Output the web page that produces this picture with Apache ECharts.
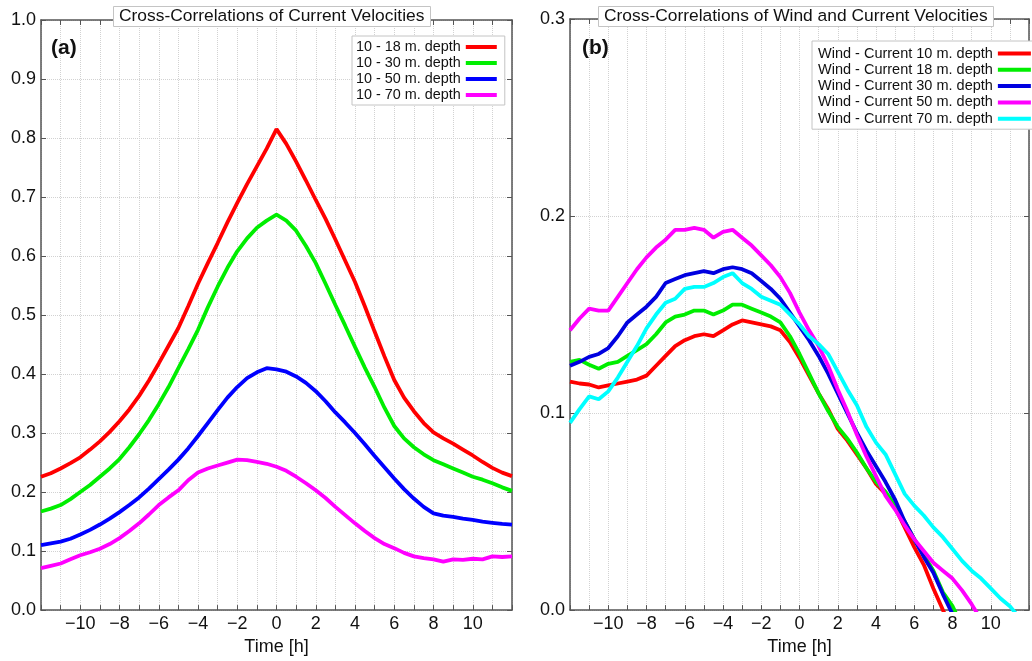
<!DOCTYPE html>
<html>
<head>
<meta charset="utf-8">
<script src="https://cdn.jsdelivr.net/npm/echarts@6/dist/echarts.min.js"></script>
<style>
html,body{margin:0;padding:0;background:#fff;}
#chart{width:1032px;height:661px;}
</style>
</head>
<body>
<div id="chart"></div>
<script>
// ---- data ----
const timeH = [-12,-11.5,-11,-10.5,-10,-9.5,-9,-8.5,-8,-7.5,-7,-6.5,-6,-5.5,-5,-4.5,-4,-3.5,-3,-2.5,-2,-1.5,-1,-0.5,0,0.5,1,1.5,2,2.5,3,3.5,4,4.5,5,5.5,6,6.5,7,7.5,8,8.5,9,9.5,10,10.5,11,11.5,12];
const xTickLabels = [-10,-8,-6,-4,-2,0,2,4,6,8,10];

const namesA = ['10 - 18 m. depth','10 - 30 m. depth','10 - 50 m. depth','10 - 70 m. depth'];
const a18 = [0.226,0.232,0.240,0.249,0.259,0.272,0.286,0.302,0.320,0.340,0.363,0.389,0.418,0.448,0.478,0.515,0.553,0.588,0.622,0.657,0.690,0.722,0.752,0.782,0.815,0.790,0.760,0.728,0.695,0.663,0.628,0.592,0.556,0.515,0.472,0.430,0.390,0.360,0.337,0.317,0.301,0.291,0.282,0.272,0.262,0.251,0.241,0.233,0.227];
const a30 = [0.167,0.172,0.178,0.188,0.200,0.212,0.226,0.240,0.256,0.276,0.298,0.322,0.349,0.378,0.410,0.442,0.475,0.513,0.548,0.580,0.608,0.630,0.648,0.660,0.670,0.660,0.643,0.617,0.588,0.553,0.517,0.482,0.446,0.411,0.378,0.343,0.312,0.291,0.276,0.264,0.254,0.247,0.240,0.233,0.226,0.221,0.215,0.208,0.202];
const a50 = [0.110,0.113,0.116,0.121,0.128,0.136,0.145,0.155,0.166,0.178,0.191,0.206,0.222,0.238,0.255,0.274,0.295,0.317,0.339,0.360,0.378,0.393,0.403,0.410,0.408,0.404,0.396,0.385,0.371,0.354,0.335,0.318,0.300,0.281,0.261,0.242,0.223,0.205,0.189,0.175,0.164,0.160,0.158,0.155,0.153,0.150,0.148,0.146,0.145];
const a70 = [0.071,0.075,0.079,0.086,0.093,0.098,0.104,0.112,0.122,0.134,0.147,0.162,0.178,0.191,0.203,0.220,0.233,0.240,0.245,0.250,0.255,0.254,0.251,0.248,0.243,0.236,0.226,0.215,0.203,0.190,0.175,0.161,0.147,0.134,0.122,0.112,0.105,0.097,0.091,0.088,0.086,0.082,0.086,0.085,0.087,0.086,0.091,0.090,0.091];

const namesB = ['Wind - Current 10 m. depth','Wind - Current 18 m. depth','Wind - Current 30 m. depth','Wind - Current 50 m. depth','Wind - Current 70 m. depth'];
const b10 = [0.116,0.115,0.1145,0.113,0.114,0.115,0.116,0.117,0.119,0.124,0.129,0.134,0.137,0.139,0.140,0.139,0.142,0.145,0.147,0.146,0.145,0.144,0.142,0.136,0.128,0.119,0.110,0.102,0.092,0.086,0.079,0.072,0.064,0.059,0.052,0.042,0.032,0.023,0.011,0.000,-0.010];
const b18 = [0.126,0.127,0.1245,0.1225,0.125,0.126,0.129,0.132,0.135,0.140,0.146,0.149,0.150,0.152,0.152,0.150,0.152,0.155,0.155,0.153,0.151,0.149,0.146,0.139,0.130,0.120,0.110,0.101,0.093,0.087,0.080,0.072,0.065,0.060,0.053,0.045,0.036,0.028,0.020,0.009,0.002,-0.008];
const b30 = [0.124,0.126,0.1285,0.130,0.133,0.139,0.146,0.150,0.154,0.159,0.166,0.168,0.170,0.171,0.172,0.171,0.173,0.174,0.173,0.171,0.167,0.163,0.158,0.151,0.144,0.137,0.129,0.120,0.110,0.100,0.090,0.081,0.073,0.065,0.056,0.045,0.036,0.027,0.019,0.008,-0.002];
const b50 = [0.142,0.148,0.153,0.152,0.152,0.159,0.166,0.173,0.179,0.184,0.188,0.193,0.193,0.194,0.193,0.189,0.192,0.193,0.189,0.185,0.180,0.175,0.169,0.161,0.151,0.142,0.134,0.124,0.112,0.101,0.089,0.078,0.068,0.058,0.051,0.043,0.036,0.030,0.024,0.020,0.016,0.010,0.003,-0.005];
const b70 = [0.095,0.102,0.1085,0.107,0.111,0.118,0.126,0.134,0.143,0.150,0.156,0.158,0.163,0.164,0.164,0.166,0.169,0.171,0.166,0.163,0.159,0.157,0.155,0.150,0.145,0.139,0.135,0.130,0.121,0.112,0.104,0.093,0.085,0.079,0.069,0.059,0.053,0.048,0.042,0.037,0.031,0.025,0.020,0.016,0.011,0.006,0.002,-0.004];

const colorsA = ['#ff0000','#00ee00','#0000ff','#ff00ff'];
const colorsB = ['#ff0000','#00ee00','#0000e0','#ff00ff','#00ffff'];

// ---- chart ----
const FONT = "'Liberation Sans', Arial, sans-serif";
const pair = vals => vals.map((v, i) => [timeH[i], v]);
const axisCol = '#555';
const gridLine = { show: true, lineStyle: { color: '#d2d2d2', type: 'dotted', width: 1 } };

function xBottom(gi) {
  return {
    type: 'value', gridIndex: gi, min: -12, max: 12, interval: 1, position: 'bottom',
    name: 'Time [h]', nameLocation: 'middle', nameGap: 21,
    nameTextStyle: { fontFamily: FONT, fontSize: 18, color: '#111' },
    axisLine: { show: true, onZero: false, lineStyle: { color: axisCol, width: 1.5 } },
    axisTick: { show: true, inside: true, length: 5, lineStyle: { color: axisCol } },
    axisLabel: {
      margin: 5, fontFamily: FONT, fontSize: 18, color: '#111',
      formatter: v => xTickLabels.includes(v) ? String(v).replace('-', '\u2212') : ''
    },
    splitLine: gridLine
  };
}
function xTop(gi) {
  return {
    type: 'value', gridIndex: gi, min: -12, max: 12, interval: 1, position: 'top',
    axisLine: { show: true, onZero: false, lineStyle: { color: axisCol, width: 1.5 } },
    axisTick: { show: true, inside: true, length: 5, lineStyle: { color: axisCol } },
    axisLabel: { show: false }, splitLine: { show: false }
  };
}
function yLeft(gi, max) {
  return {
    type: 'value', gridIndex: gi, min: 0, max: max, interval: 0.1, position: 'left',
    axisLine: { show: true, onZero: false, lineStyle: { color: axisCol, width: 1.5 } },
    axisTick: { show: true, inside: true, length: 5, lineStyle: { color: axisCol } },
    axisLabel: { margin: 5, fontFamily: FONT, fontSize: 18, color: '#111', formatter: v => v.toFixed(1) },
    splitLine: gridLine
  };
}
function yRight(gi, max) {
  return {
    type: 'value', gridIndex: gi, min: 0, max: max, interval: 0.1, position: 'right',
    axisLine: { show: true, onZero: false, lineStyle: { color: axisCol, width: 1.5 } },
    axisTick: { show: true, inside: true, length: 5, lineStyle: { color: axisCol } },
    axisLabel: { show: false }, splitLine: { show: false }
  };
}

const seriesA = [a18, a30, a50, a70].map((d, i) => ({
  type: 'line', name: namesA[i], xAxisIndex: 0, yAxisIndex: 0, data: pair(d),
  showSymbol: false, symbol: 'none', clip: true,
  lineStyle: { color: colorsA[i], width: 3.8 }, itemStyle: { color: colorsA[i] }
}));
const seriesB = [b10, b18, b30, b50, b70].map((d, i) => ({
  type: 'line', name: namesB[i], xAxisIndex: 2, yAxisIndex: 2, data: pair(d),
  showSymbol: false, symbol: 'none', clip: true,
  lineStyle: { color: colorsB[i], width: 3.8 }, itemStyle: { color: colorsB[i] }
}));

const titleBox = { backgroundColor: '#fff', borderColor: '#c4c4c4', borderWidth: 1, padding: [2, 6, 2, 6] };

const option = {
  animation: false,
  backgroundColor: '#fff',
  grid: [
    { left: 41, right: 520, top: 20, bottom: 44.5 },
    { left: 570, right: -8, top: 19, bottom: 44 }
  ],
  xAxis: [xBottom(0), xTop(0), xBottom(1), xTop(1)],
  yAxis: [yLeft(0, 1.0), yRight(0, 1.0), yLeft(1, 0.3), yRight(1, 0.3)],
  title: [
    Object.assign({ text: 'Cross-Correlations of Current Velocities', left: 113, top: 6,
      textStyle: { fontFamily: FONT, fontSize: 17.4, fontWeight: 'normal', color: '#111' } }, titleBox),
    Object.assign({ text: 'Cross-Correlations of Wind and Current Velocities', left: 598, top: 6,
      textStyle: { fontFamily: FONT, fontSize: 17.4, fontWeight: 'normal', color: '#111' } }, titleBox),
    { text: '(a)', left: 51, top: 38, padding: 0, textStyle: { fontFamily: FONT, fontSize: 21, fontWeight: 'bold', color: '#111' } },
    { text: '(b)', left: 582, top: 38, padding: 0, textStyle: { fontFamily: FONT, fontSize: 21, fontWeight: 'bold', color: '#111' } }
  ],
  legend: [
    {
      data: namesA, orient: 'vertical', left: 352, top: 36, align: 'right',
      icon: 'rect', itemWidth: 31, itemHeight: 4, itemGap: 2,
      padding: [4, 8, 3, 4], backgroundColor: '#fff', borderColor: '#c4c4c4', borderWidth: 1,
      textStyle: { fontFamily: FONT, fontSize: 14.4, color: '#111' }
    },
    {
      data: namesB, orient: 'vertical', left: 812, top: 41, align: 'right',
      icon: 'rect', itemWidth: 33, itemHeight: 4, itemGap: 1.3,
      padding: [5, 20, 3, 6], backgroundColor: '#fff', borderColor: '#c4c4c4', borderWidth: 1,
      textStyle: { fontFamily: FONT, fontSize: 14.5, color: '#111' }
    }
  ],
  series: seriesA.concat(seriesB)
};

const chart = echarts.init(document.getElementById('chart'), null, { renderer: 'canvas' });
chart.setOption(option);
</script>
</body>
</html>
